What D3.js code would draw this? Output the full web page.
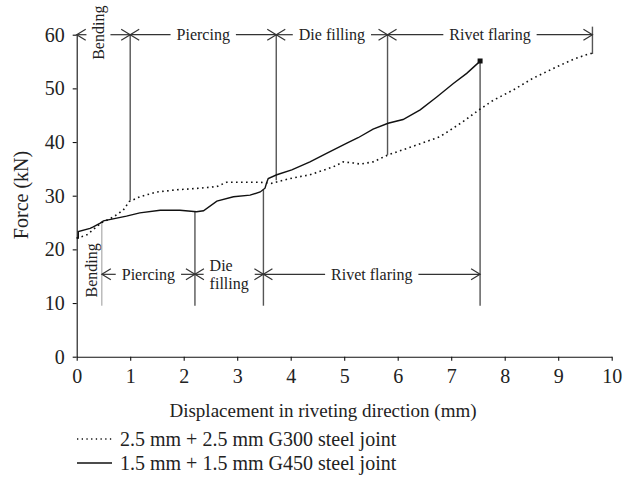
<!DOCTYPE html>
<html>
<head>
<meta charset="utf-8">
<script src="https://cdn.jsdelivr.net/npm/d3@7"></script>
<style>
  body { margin: 0; background: #fff; }
  svg { display: block; }
  text { font-family: "Liberation Serif", "Times New Roman", serif; fill: #222; }
</style>
</head>
<body>
<svg id="chart" width="632" height="485"></svg>
<script>
// Force–displacement curves of two self-piercing riveted joints
const g300X = [0, 0.10, 0.19, 0.37, 0.47, 0.68, 0.87, 0.98, 1.18, 1.50, 1.87, 2.30, 2.62, 2.80, 3.43, 3.64, 3.99, 4.36, 4.80, 4.98, 5.17, 5.30, 5.54, 5.82, 6.17, 6.54, 6.79, 7.04, 7.25, 7.52, 7.79, 8.16, 8.53, 8.97, 9.28, 9.59, 9.64];
const g300Y = [22.1, 22.4, 22.7, 24.2, 25.0, 26.0, 27.3, 28.9, 29.8, 30.7, 31.1, 31.4, 31.7, 32.5, 32.5, 32.3, 33.2, 33.9, 35.4, 36.3, 36.1, 35.9, 36.3, 37.6, 38.8, 40.1, 41.0, 42.6, 44.0, 46.0, 47.8, 49.7, 51.9, 54.0, 55.4, 56.5, 56.5];

const g450X = [0, 0.03, 0.03, 0.25, 0.31, 0.44, 0.50, 0.93, 1.18, 1.56, 1.93, 2.24, 2.37, 2.62, 2.93, 3.24, 3.43, 3.52, 3.55, 3.58, 3.74, 4.02, 4.36, 4.67, 5.05, 5.26, 5.54, 5.82, 6.10, 6.42, 6.73, 7.04, 7.29, 7.50, 7.54];
const g450Y = [22.1, 22.1, 23.3, 23.9, 24.2, 24.9, 25.3, 26.2, 26.8, 27.3, 27.3, 27.0, 27.2, 29.0, 29.8, 30.1, 30.7, 31.4, 32.4, 33.2, 33.9, 34.8, 36.3, 37.9, 39.8, 40.8, 42.4, 43.5, 44.2, 46.0, 48.4, 50.9, 52.8, 54.7, 55.1];

const xTicks = [0, 1, 2, 3, 4, 5, 6, 7, 8, 9, 10];
const yTicks = [0, 10, 20, 30, 40, 50, 60];

// Riveting phases: G300 joint along the top, G450 joint along the bottom
const phaseLabels = ["Bending", "Piercing", "Die filling", "Rivet flaring"];
const bottomPhaseLabels = ["Bending", "Piercing", "Die\nfilling", "Rivet flaring"];
const topBounds = [0, 1.0, 3.73, 5.81, 9.64];
const topGuideEnd = [null, 29.1, 32.9, 37.6, 56.4];
const bottomBounds = [0, 0.47, 2.21, 3.49, 7.54];
const bottomGuideStart = [null, 25.1, 27.0, 31.2, 55.1];
const topLevel = 60;
const bottomLevel = 15.35;
const guideFloor = 9.5;

const legendLabels = ["2.5 mm + 2.5 mm G300 steel joint", "1.5 mm + 1.5 mm G450 steel joint"];

const svg = d3.select("#chart");
const x = d3.scaleLinear().domain([0, 10]).range([76.7, 611.7]);
const y = d3.scaleLinear().domain([0, 60]).range([356.7, 34.7]);

// Axes
const xAxis = svg.append("g")
  .attr("transform", `translate(0,${y(0)})`)
  .call(d3.axisBottom(x).tickValues(xTicks).tickSize(4).tickSizeOuter(0).tickPadding(8).tickFormat(d3.format("d")));
const yAxis = svg.append("g")
  .attr("transform", `translate(${x(0)},0)`)
  .call(d3.axisLeft(y).tickValues(yTicks).tickSize(4).tickSizeOuter(0).tickPadding(8).tickFormat(d3.format("d")));
[xAxis, yAxis].forEach(a => {
  a.selectAll("path.domain").attr("stroke", "#111").attr("stroke-width", 1.1);
  a.selectAll(".tick line").attr("stroke", "#111").attr("stroke-width", 1.1);
  a.selectAll(".tick text").style("font-family", '"Liberation Serif", serif').style("font-size", "20px").attr("fill", "#222");
});

svg.append("text")
  .attr("x", 323).attr("y", 417)
  .attr("text-anchor", "middle")
  .style("font-size", "19px")
  .text("Displacement in riveting direction (mm)");
svg.append("text")
  .attr("transform", `translate(28,195) rotate(-90)`)
  .attr("text-anchor", "middle")
  .style("font-size", "20px")
  .text("Force (kN)");

// Curves
const line = d3.line().x(d => x(d[0])).y(d => y(d[1]));
const g300 = g300X.map((v, i) => [v, g300Y[i]]);
const g450 = g450X.map((v, i) => [v, g450Y[i]]);

// Phase guide lines
const guideColor = "#555";
topBounds.forEach((b, i) => {
  if (i === 0) return;
  const top = i === topBounds.length - 1 ? topLevel + 1.5 : topLevel;
  svg.append("line")
    .attr("x1", x(b)).attr("x2", x(b))
    .attr("y1", y(top)).attr("y2", y(topGuideEnd[i]))
    .attr("stroke", guideColor).attr("stroke-width", 1.4);
});
bottomBounds.forEach((b, i) => {
  if (i === 0) return;
  svg.append("line")
    .attr("x1", x(b)).attr("x2", x(b))
    .attr("y1", y(bottomGuideStart[i])).attr("y2", y(guideFloor))
    .attr("stroke", i === 1 ? "#999" : guideColor).attr("stroke-width", i === 1 ? 1 : 1.4);
});

svg.append("path").datum(g300)
  .attr("d", line).attr("fill", "none")
  .attr("stroke", "#111").attr("stroke-width", 1.6)
  .attr("stroke-dasharray", "1.6,3.4");
svg.append("path").datum(g450)
  .attr("d", line).attr("fill", "none")
  .attr("stroke", "#111").attr("stroke-width", 1.4);
const last = g450[g450.length - 1];
svg.append("rect")
  .attr("x", x(last[0]) - 2.5).attr("y", y(last[1]) - 2.5)
  .attr("width", 5).attr("height", 5).attr("fill", "#111");

// Phase arrows and labels
function drawPhases(bounds, labels, level, withBendingArrow) {
  const py = y(level);
  const arrowColor = "#333";
  for (let i = 0; i < labels.length; i++) {
    const a = x(bounds[i]), b = x(bounds[i + 1]);
    const mid = (a + b) / 2;
    const vertical = labels[i] === "Bending";
    const t = svg.append("text").style("font-size", "16px").attr("fill", "#333");
    let gapL, gapR;
    if (vertical) {
      const cx = withBendingArrow ? mid - 5 : mid + 2;
      t.attr("transform", `translate(${cx},${py - (withBendingArrow ? 2 : 4)}) rotate(-90)`)
        .attr("text-anchor", "middle").attr("dy", "0.35em").text(labels[i]);
      gapL = cx - 12; gapR = cx + 12;
    } else {
      const parts = labels[i].split("\n");
      const lh = 18;
      parts.forEach((p, k) => {
        t.append("tspan").attr("x", 0)
          .attr("y", (k - (parts.length - 1) / 2) * lh)
          .attr("dy", "0.33em").text(p);
      });
      const w = t.node().getBBox().width;
      if (parts.length > 1) {
        t.attr("transform", `translate(${mid - w / 2},${py})`);
      } else {
        t.attr("text-anchor", "middle").attr("transform", `translate(${mid},${py})`);
      }
      gapL = mid - w / 2 - 6; gapR = mid + w / 2 + 6;
    }
    if (vertical && !withBendingArrow) continue;
    const segs = [[a, gapL], [gapR, b]];
    segs.forEach(s => {
      if (s[1] > s[0]) {
        svg.append("line").attr("x1", s[0]).attr("x2", s[1]).attr("y1", py).attr("y2", py)
          .attr("stroke", arrowColor).attr("stroke-width", 1.2);
      }
    });
    // open arrowheads at both ends of the phase
    svg.append("path")
      .attr("d", `M${a + 9},${py - 5.5}L${a},${py}L${a + 9},${py + 5.5}`)
      .attr("fill", "none").attr("stroke", arrowColor).attr("stroke-width", 1.2);
    svg.append("path")
      .attr("d", `M${b - 9},${py - 5.5}L${b},${py}L${b - 9},${py + 5.5}`)
      .attr("fill", "none").attr("stroke", arrowColor).attr("stroke-width", 1.2);
  }
}
drawPhases(topBounds, phaseLabels, topLevel, true);
drawPhases(bottomBounds, bottomPhaseLabels, bottomLevel, false);

// Legend
const legendY = [439, 463];
legendLabels.forEach((lab, i) => {
  svg.append("line")
    .attr("x1", 77).attr("x2", 112).attr("y1", legendY[i]).attr("y2", legendY[i])
    .attr("stroke", "#111").attr("stroke-width", i === 0 ? 1.3 : 1.4)
    .attr("stroke-dasharray", i === 0 ? "1.3,3.4" : null);
  svg.append("text")
    .attr("x", 120).attr("y", legendY[i]).attr("dy", "0.33em")
    .style("font-size", "20px")
    .text(lab);
});
</script>
</body>
</html>
